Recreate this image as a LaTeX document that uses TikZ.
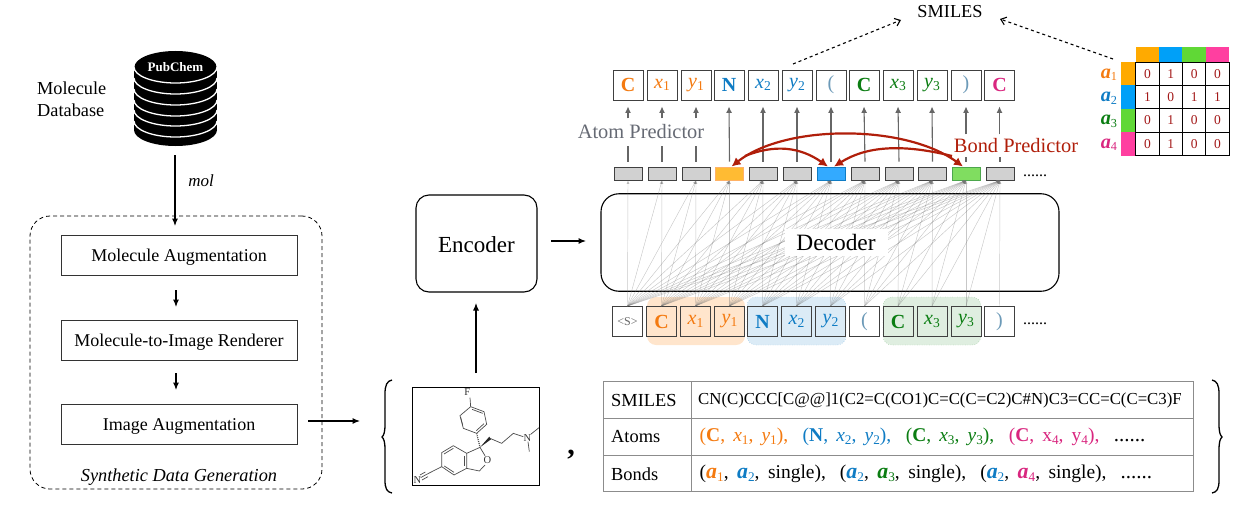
\documentclass[tikz,border=0pt]{standalone}
\usepackage{fontspec}
\usepackage{graphicx}
\usetikzlibrary{positioning, arrows.meta}
\setmainfont{Liberation Serif}

\definecolor{orangeC}{HTML}{F47A10}
\definecolor{blueN}{HTML}{0F7CC4}
\definecolor{greenC}{HTML}{0B7D12}
\definecolor{pinkC}{HTML}{D9267F}
\definecolor{redB}{HTML}{B01E0A}
\definecolor{predgray}{HTML}{666A74}

\newcommand{\fs}[1]{\fontsize{#1}{#1}\selectfont}
\newcommand{\varsub}[2]{\textit{#1}\raisebox{-0.3ex}{\scalebox{0.68}{#2}}}
\newcommand{\atomsub}[1]{\textbf{\textit{\scalebox{1.12}{a}}}\raisebox{-0.3ex}{\scalebox{0.68}{#1}}}

\tikzset{
  label text/.style={font=\fs{18.3}, inner sep=0pt},
  stepbox/.style={draw=black!80, line width=0.8pt, minimum width=236pt, minimum height=40pt, inner sep=0pt, font=\fs{18}, text height=14pt, text depth=2pt},
  token/.style={draw=black!75, line width=0.9pt, fill=white, minimum size=30pt, inner sep=0pt, font=\fs{20}},
  hidden/.style={draw=black!75, line width=0.9pt, fill=black!18, minimum width=28pt, minimum height=13pt, inner sep=0pt},
  attn/.style={-{Latex[length=3.5pt,width=3pt]}, black!55, line width=0.45pt, opacity=0.4},
  pred/.style={black!60, line width=1.1pt},
  predtip/.style={-{Latex[length=6.5pt,width=6pt]}},
  flow/.style={-{Latex[length=7.5pt,width=6pt]}, line width=1.1pt},
  dotarrow/.style={-{Straight Barb[length=5pt,width=8pt]}, dash pattern=on 3pt off 3pt, line width=1.1pt},
  arcarrow/.style={redB, line width=2.2pt},
  bond/.style={black!70, line width=0.7pt},
  cell/.style={draw=black, line width=1pt, minimum size=23.4pt, inner sep=0pt, font=\fs{13.5}, text=red!60!black!90},
  tablecell/.style={anchor=west, inner sep=0pt, font=\fs{18.4}},
  curly/.pic={\draw[line width=1.3pt] (0,0) .. controls (-5,1) and (-7,5) .. (-7,14) -- (-7,44) .. controls (-7,52) and (-8,55) .. (-10,57) .. controls (-8,59) and (-7,62) .. (-7,70) -- (-7,100) .. controls (-7,109) and (-5,112) .. (0,113);},
}

\begin{document}
\begin{tikzpicture}[x=1pt, y=-1pt]
\useasboundingbox (0,0) rectangle (1246,511);

% molecule database
\fill[black] (134,67) rectangle (217,130);
\fill[black] (175.5,130) ellipse (41.5 and 16);
\fill[black] (175.5,67) ellipse (41 and 16);
\foreach \c in {67,78,89,100,110,121}{
  \draw[white, line width=1.3pt] (134,\c) arc (180:0:41.5 and 16);
}
\node[white, font=\bfseries\fs{13}, inner sep=0pt] (db) at (175.5,67) {PubChem};
\coordinate (dbout) at (175,155);
\node[label text, align=left, anchor=north west] (dbname) at (37,82) {Molecule\\[3.7pt]Database};
\node[font=\itshape\fs{17}, inner sep=0pt] (mol) at (201,181) {mol};

% synthetic data generation
\node[draw, dash pattern=on 4pt off 3pt, line width=0.8pt, rounded corners=20pt, minimum width=292pt, minimum height=273pt, inner sep=0pt] (synth) at (176,352.5) {};
\node[stepbox] (aug) at (179,255) {Molecule Augmentation};
\node[stepbox] (render) at (179,340) {Molecule-to-Image Renderer};
\node[stepbox] (imaug) at (179,424) {Image Augmentation};
\node[font=\itshape\fs{18.3}, inner sep=0pt] (synthname) at (179,477) {Synthetic Data Generation};
\coordinate (augin) at (175,226);
\coordinate (r1) at (176,290);
\coordinate (r2) at (176,307);
\coordinate (r3) at (176,373);
\coordinate (r4) at (176,390);
\coordinate (imout) at (308,421);
\coordinate (imin) at (360,421);

\draw[flow] (dbout) -- (augin);
\draw[flow] (r1) -- (r2);
\draw[flow] (r3) -- (r4);
\draw[flow] (imout) -- (imin);

% encoder and decoder
\node[draw, line width=1.1pt, rounded corners=13pt, minimum width=121pt, minimum height=97pt, inner sep=0pt, font=\fs{23}, text height=18pt, text depth=0pt] (enc) at (476.5,243.5) {Encoder};
\node[draw, line width=1.1pt, rounded corners=18pt, minimum width=458pt, minimum height=97.5pt, inner sep=0pt] (dec) at (830,242.5) {};
\coordinate (encin) at (476,373);
\coordinate (encout) at (476,303);
\coordinate (encr) at (551,241);
\coordinate (decl) at (586,241);
\draw[flow] (encin) -- (encout);
\draw[flow] (encr) -- (decl);

% coloured groups under the input tokens
\node[fill=orange!20, rounded corners=9pt, minimum width=98pt, minimum height=48pt, inner sep=0pt] (gc) at (696,321) {};
\node[draw=blueN!60, dotted, fill=blueN!15, rounded corners=9pt, minimum width=99pt, minimum height=48pt, inner sep=0pt] (gn) at (796.5,321) {};
\node[draw=greenC!60, dotted, fill=greenC!13, rounded corners=9pt, minimum width=98pt, minimum height=48pt, inner sep=0pt] (gg) at (932,321) {};

% input tokens
\foreach \i/\px/\lab/\col in {1/627.5/{\fs{12}<S>}/black!60, 8/864.5/{(}/blueN!70!black!60, 12/999.5/{)}/blueN!70!black!60}{
  \node[token, text=\col] (b\i) at (\px,321.5) {\lab};
}
\foreach \i/\px/\lab/\col in {2/661.5/{\textbf{C}}/orangeC, 3/695.5/{\varsub{x}{1}}/orangeC, 4/729.5/{\varsub{y}{1}}/orangeC}{
  \node[token, fill=orange!20, text=\col] (b\i) at (\px,321.5) {\lab};
}
\foreach \i/\px/\lab in {5/762.5/{\textbf{N}}, 6/796.5/{\varsub{x}{2}}, 7/830.5/{\varsub{y}{2}}}{
  \node[token, fill=blueN!15, text=blueN] (b\i) at (\px,321.5) {\lab};
}
\foreach \i/\px/\lab in {9/898/{\textbf{C}}, 10/932/{\varsub{x}{3}}, 11/966/{\varsub{y}{3}}}{
  \node[token, fill=greenC!13, text=greenC] (b\i) at (\px,321.5) {\lab};
}
\node[inner sep=0pt, font=\fs{16}] (bdots) at (1035,324) {......};

% hidden states
\foreach \i/\px in {1/628,2/662,3/696,5/763,6/797,8/865,9/899,10/932.5,12/1000}{
  \node[hidden] (h\i) at (\px,173.5) {};
}
\definecolor{hfour}{HTML}{FFBB33}
\definecolor{hseven}{HTML}{33AAFF}
\definecolor{heleven}{HTML}{80DD60}
\node[hidden, fill=hfour, draw=orange!60] (h4) at (729.5,173.5) {};
\node[hidden, fill=hseven, draw=blueN] (h7) at (831,173.5) {};
\node[hidden, fill=heleven, draw=green!50!black!70] (h11) at (966,173.5) {};
\node[inner sep=0pt, font=\fs{16}] (hdots) at (1035,176) {......};

\foreach \i in {1,...,12}{
  \foreach \j in {1,...,\i}{
    \draw[attn] (b\j.north) -- (h\i.south);
  }
}
\node[fill=white, font=\fs{23.4}, inner sep=0pt, minimum width=103pt, minimum height=27pt, text height=17pt, text depth=0pt] (decname) at (836,242) {Decoder};

% output tokens
\foreach \i/\px/\lab/\col in {1/628/{\textbf{C}}/orangeC, 2/662/{\varsub{x}{1}}/orangeC, 3/696/{\varsub{y}{1}}/orangeC, 4/729/{\textbf{N}}/blueN, 5/763/{\varsub{x}{2}}/blueN, 6/797/{\varsub{y}{2}}/blueN, 7/831/{(}/blueN!70!black!60, 8/864/{\textbf{C}}/greenC, 9/898/{\varsub{x}{3}}/greenC, 10/932/{\varsub{y}{3}}/greenC, 11/966/{)}/blueN!70!black!60, 12/999.5/{\textbf{C}}/pinkC}{
  \node[token, text=\col] (t\i) at (\px,85) {\lab};
}

% predictors
\node[text=predgray, font=\fs{20.4}, inner sep=0pt] (atompred) at (641,132) {Atom Predictor};
\node[text=redB, font=\fs{20.4}, inner sep=0pt] (bondpred) at (1016,146) {Bond Predictor};
\foreach \i in {1,2,3}{
  \coordinate (p\i) at ([yshift=5pt]h\i.north);
  \coordinate (q\i) at ([yshift=21pt]h\i.north);
  \coordinate (s\i) at ([yshift=-18pt]t\i.south);
  \coordinate (u\i) at ([yshift=-6pt]t\i.south);
  \draw[pred] (p\i) -- (q\i);
  \draw[pred, predtip] (s\i) -- (u\i);
}
\foreach \i in {4,...,10}{
  \coordinate (p\i) at ([yshift=5pt]h\i.north);
  \coordinate (u\i) at ([yshift=-6pt]t\i.south);
  \draw[pred, predtip] (p\i) -- (u\i);
}
\foreach \i in {11,12}{
  \coordinate (p\i) at ([yshift=5pt]h\i.north);
  \coordinate (q\i) at ([yshift=10pt]h\i.north);
  \coordinate (s\i) at ([yshift=-34pt]t\i.south);
  \coordinate (u\i) at ([yshift=-6pt]t\i.south);
  \draw[pred] (p\i) -- (q\i);
  \draw[pred, predtip] (s\i) -- (u\i);
}

% bond arcs
\coordinate (arcl) at (745,156);
\coordinate (arcr) at (952,156);
\draw[arcarrow, {Latex[length=9pt,width=9pt]}-{Latex[length=9pt,width=9pt]}] ([xshift=2pt]h4.north) .. controls (785,124) and (905,124) .. ([xshift=-3pt]h11.north);
\draw[arcarrow, -{Latex[length=9pt,width=9pt]}] (arcl) .. controls (775,144) and (800,147) .. ([xshift=-3pt]h7.north);
\draw[arcarrow, -{Latex[length=9pt,width=9pt]}] (arcr) .. controls (900,143) and (865,147) .. ([xshift=3pt]h7.north);

% SMILES and the bond matrix
\node[label text] (smiles) at (950,12) {SMILES};
\coordinate (smout) at (793,64);
\coordinate (smin) at (901,20);
\coordinate (mxout) at (1113,59);
\coordinate (mxin) at (1000,19);
\draw[dotarrow] (smout) -- (smin);
\draw[dotarrow] (mxout) -- (mxin);

\foreach \k/\px/\col in {1/1147.3/FFAA00,2/1170.7/00A0F8,3/1194.1/60D836,4/1217.5/FF3FA0}{
  \definecolor{mcol}{HTML}{\col}
  \fill[mcol] (\px-11.7,47) rectangle (\px+11.7,62);
}
\foreach \k/\py/\col/\lab/\tcol in {1/73.7/FFAA00/1/orangeC,2/97.1/00A0F8/2/blueN,3/120.5/60D836/3/greenC,4/143.9/FF3FA0/4/pinkC}{
  \definecolor{mcol}{HTML}{\col}
  \fill[mcol] (1121,\py-11.7) rectangle (1135.6,\py+11.7);
  \node[text=\tcol, font=\fs{18}, inner sep=0pt] (a\k) at (1109,\py+1) {\atomsub{\lab}};
}
\foreach \r/\py/\vals in {1/73.7/{0,1,0,0},2/97.1/{1,0,1,1},3/120.5/{0,1,0,0},4/143.9/{0,1,0,0}}{
  \foreach \v [count=\c] in \vals{
    \node[cell] (m\r\c) at (1124+23.4*\c,\py) {\v};
  }
}

% molecule image
\node[draw, line width=0.9pt, minimum width=127pt, minimum height=97.5pt, inner sep=0pt] (molbox) at (475.5,436.5) {};
\begin{scope}[shift={(410,385)}, x=0.3333pt, y=-0.3333pt]
\draw[bond] (180,38) -- (182,65) -- (222,80) -- (230,118) -- (200,145) -- (160,130) -- (150,92) -- (182,65);
\draw[bond] (186,73) -- (218,85);
\draw[bond] (222,116) -- (199,137);
\draw[bond] (158,120) -- (152,97);
\draw[bond, dash pattern=on 1pt off 1pt, line width=1.2pt] (200,145) -- (210,187);
\fill[black!85] (210,187) -- (238,155) -- (243,163) -- cycle;
\draw[bond] (240,160) -- (275,175) -- (310,145) -- (340,155);
\draw[bond] (362,148) -- (387,128);
\draw[bond] (354,170) -- (358,200);
\draw[bond] (130,182) -- (170,205) -- (170,250) -- (132,270) -- (95,245) -- (95,203) -- cycle;
\draw[bond] (130,190) -- (102,207);
\draw[bond] (163,212) -- (163,243);
\draw[bond] (103,243) -- (132,262);
\draw[bond] (170,205) -- (210,187) -- (225,212);
\draw[bond] (225,240) -- (208,258) -- (170,250);
\draw[bond] (95,245) -- (50,268);
\draw[bond] (50,268) -- (32,278);
\draw[bond] (46,261) -- (30,270);
\draw[bond] (54,275) -- (36,285);
\node[font=\fs{10.5}, text=black!80, inner sep=0pt] (fatom) at (172,22) {F};
\node[font=\fs{10.5}, text=black!80, inner sep=0pt] (natom) at (352,158) {N};
\node[font=\fs{10.5}, text=black!80, inner sep=0pt] (oatom) at (232,225) {O};
\node[font=\fs{10.5}, text=black!80, inner sep=0pt] (catom) at (22,285) {N};
\end{scope}

\node[font=\bfseries\fs{30}, inner sep=0pt] (comma) at (571,455) {,};
\pic at (392,380) {curly};
\pic[xscale=-1] at (1212,380) {curly};

% table
\node[draw=black!45, line width=1pt, minimum width=590pt, minimum height=110pt, inner sep=0pt] (tbl) at (898,436) {};
\draw[black!45, line width=1pt] (603,418.5) -- (1193,418.5);
\draw[black!45, line width=1pt] (603,455) -- (1193,455);
\draw[black!45, line width=1pt] (691,381) -- (691,491);
\node[tablecell] (rsmiles) at (611,400) {SMILES};
\node[tablecell] (ratoms) at (611,437) {Atoms};
\node[tablecell] (rbonds) at (611,474) {Bonds};
\node[tablecell, font=\fs{16.8}] (vsmiles) at (698,400.5) {CN(C)CCC[C@@]1(C2=C(CO1)C=C(C=C2)C\#N)C3=CC=C(C=C3)F};
\node[tablecell, font=\fs{19.5}] (vatoms) at (699.5,437) {\textcolor{orangeC}{(\textbf{C},\, \varsub{x}{1},\, \varsub{y}{1}),}\hspace{14.5pt}\textcolor{blueN}{(\textbf{N},\, \varsub{x}{2},\, \varsub{y}{2}),}\hspace{14.5pt}\textcolor{greenC}{(\textbf{C},\, \varsub{x}{3},\, \varsub{y}{3}),}\hspace{14.5pt}\textcolor{pinkC}{(\textbf{C},\, x\raisebox{-0.3ex}{\scalebox{0.68}{4}},\, y\raisebox{-0.3ex}{\scalebox{0.68}{4}}),}\hspace{14.5pt}{\fs{21}......}};
\node[tablecell, font=\fs{19.5}] (vbonds) at (699.5,474) {(\textcolor{orangeC}{\atomsub{1}},\hspace{8.5pt}\textcolor{blueN}{\atomsub{2}},\hspace{8.5pt}single),\hspace{14pt}(\textcolor{blueN}{\atomsub{2}},\hspace{8.5pt}\textcolor{greenC}{\atomsub{3}},\hspace{8.5pt}single),\hspace{14pt}(\textcolor{blueN}{\atomsub{2}},\hspace{8.5pt}\textcolor{pinkC}{\atomsub{4}},\hspace{8.5pt}single),\hspace{14pt}{\fs{21}......}};

\end{tikzpicture}
\end{document}
